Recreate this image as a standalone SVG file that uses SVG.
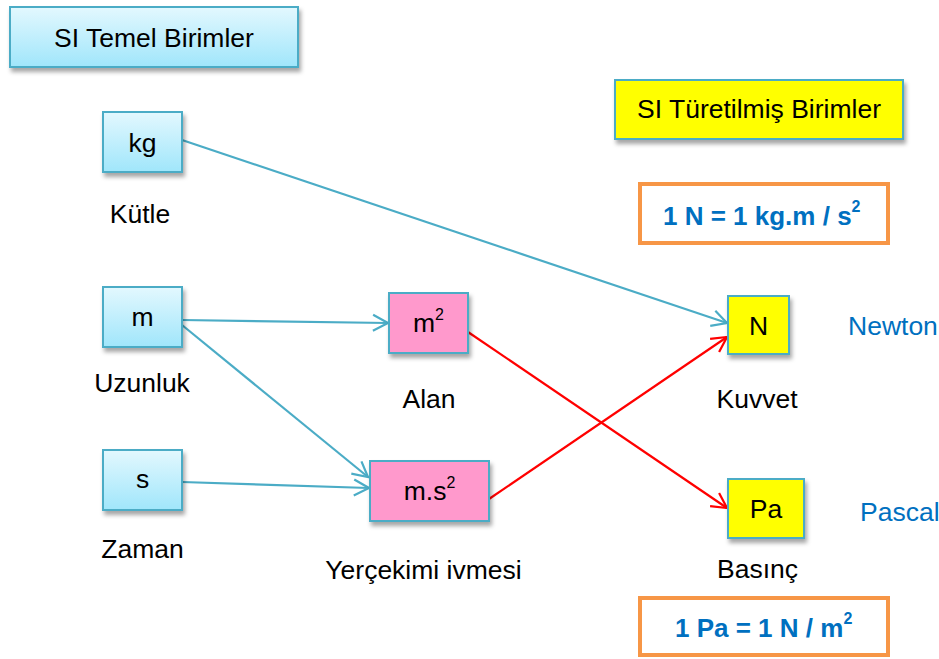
<svg xmlns="http://www.w3.org/2000/svg" width="939" height="659" viewBox="0 0 939 659">
<defs>
<linearGradient id="gBlue" x1="0" y1="0" x2="0" y2="1">
<stop offset="0" stop-color="#e3f8fe"/>
<stop offset="1" stop-color="#a0e6fb"/>
</linearGradient>
<filter id="sh" x="-20%" y="-20%" width="140%" height="150%">
<feDropShadow dx="2" dy="4" stdDeviation="2" flood-color="#000" flood-opacity="0.35"/>
</filter>
<marker id="aBlue" markerUnits="userSpaceOnUse" markerWidth="20" markerHeight="20" viewBox="-16 -10 20 20" refX="0" refY="0" orient="auto">
<path d="M-15,-8 L0,0 L-15,8" fill="none" stroke="#4bacc6" stroke-width="2.2"/>
</marker>
<marker id="aRed" markerUnits="userSpaceOnUse" markerWidth="20" markerHeight="20" viewBox="-16 -10 20 20" refX="0" refY="0" orient="auto">
<path d="M-15,-8 L0,0 L-15,8" fill="none" stroke="#ff0000" stroke-width="2.2"/>
</marker>
</defs>
<style>
text{font-family:"Liberation Sans",Arial,sans-serif;font-size:26.5px;fill:#000}
.c{text-anchor:middle}
.bl{fill:#0070c0}
.eq{font-weight:bold;fill:#0070c0;font-size:26px}
.base{fill:url(#gBlue);stroke:#4bacc6;stroke-width:2;filter:url(#sh)}
.yel{fill:#ffff00;stroke:#4bacc6;stroke-width:2;filter:url(#sh)}
.pink{fill:#ff99cc;stroke:#4bacc6;stroke-width:2;filter:url(#sh)}
.org{fill:#fff;stroke:#f79646;stroke-width:4}
.lb{stroke:#4bacc6;stroke-width:2.2;fill:none;marker-end:url(#aBlue)}
.lr{stroke:#ff0000;stroke-width:2.2;fill:none;marker-end:url(#aRed)}
</style>
<g id="connectors">
<line class="lb" x1="182" y1="140" x2="727" y2="323"/>
<line class="lb" x1="182" y1="320" x2="388" y2="323"/>
<line class="lb" x1="182" y1="325" x2="368" y2="477"/>
<line class="lb" x1="182" y1="482" x2="369" y2="488"/>
<line class="lr" x1="468" y1="332" x2="727" y2="508"/>
<line class="lr" x1="489" y1="499" x2="727" y2="337"/>
</g>
<g id="title-base">
<rect class="base" x="10" y="7" width="288" height="60"/>
<text class="c" x="154" y="47">SI Temel Birimler</text>
</g>
<g id="kg">
<rect class="base" x="103" y="112" width="79" height="60"/>
<text class="c" x="142.5" y="152">kg</text>
<text class="c" x="140" y="223">Kütle</text>
</g>
<g id="m">
<rect class="base" x="103" y="287" width="79" height="60"/>
<text class="c" x="142.5" y="326">m</text>
<text class="c" x="142" y="392">Uzunluk</text>
</g>
<g id="s">
<rect class="base" x="103" y="450" width="79" height="60"/>
<text class="c" x="142.5" y="488">s</text>
<text class="c" x="142.5" y="558">Zaman</text>
</g>
<g id="m2">
<rect class="pink" x="389" y="293" width="79" height="60"/>
<text class="c" x="428.5" y="332">m<tspan font-size="16" dy="-12">2</tspan></text>
<text class="c" x="429" y="408">Alan</text>
</g>
<g id="ms2">
<rect class="pink" x="370" y="461" width="119" height="60"/>
<text class="c" x="429.5" y="500">m.s<tspan font-size="16" dy="-12">2</tspan></text>
<text class="c" x="423.5" y="579">Yerçekimi ivmesi</text>
</g>
<g id="title-derived">
<rect class="yel" x="615" y="80" width="288" height="59"/>
<text class="c" x="759" y="118">SI Türetilmiş Birimler</text>
</g>
<g id="eq-newton">
<rect class="org" x="640" y="184" width="248" height="59"/>
<text class="eq" x="663" y="225">1 N = 1 kg.m / s<tspan font-size="16" dy="-13">2</tspan></text>
</g>
<g id="N">
<rect class="yel" x="728" y="296" width="61" height="58"/>
<text class="c" x="758.5" y="335">N</text>
<text class="c" x="757" y="408">Kuvvet</text>
<text class="bl" x="848" y="335">Newton</text>
</g>
<g id="Pa">
<rect class="yel" x="728" y="479" width="76" height="59"/>
<text class="c" x="766" y="518">Pa</text>
<text class="c" x="757.5" y="578">Basınç</text>
<text class="bl" x="860" y="521">Pascal</text>
</g>
<g id="eq-pascal">
<rect class="org" x="640" y="598" width="248" height="57"/>
<text class="eq" x="675" y="637">1 Pa = 1 N / m<tspan font-size="16" dy="-13">2</tspan></text>
</g>
</svg>
